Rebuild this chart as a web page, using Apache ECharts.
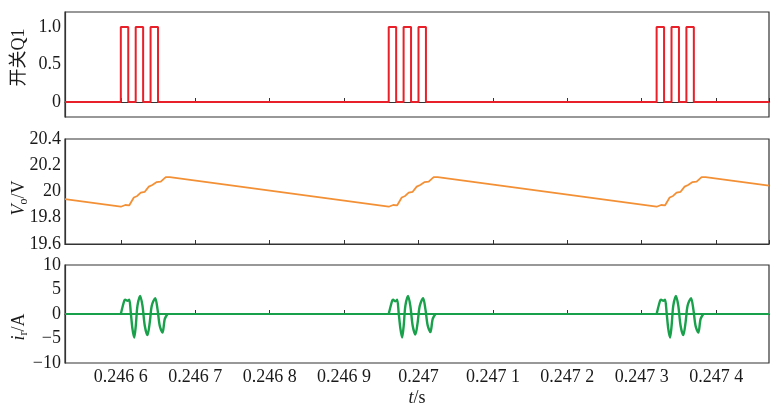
<!DOCTYPE html>
<html><head><meta charset="utf-8">
<script src="https://cdn.jsdelivr.net/npm/echarts@6/dist/echarts.min.js"></script>
<style>html,body{margin:0;padding:0;background:#fff}#c{width:770px;height:404px}</style>
</head><body><div id="c"></div><script>
// ---- data ----
const xMin = 0.246525, xMax = 0.247471;
const q1Times = [0.246525, 0.24660, 0.24661, 0.24662, 0.24663, 0.24664, 0.24665,
  0.24696, 0.24697, 0.24698, 0.24699, 0.24700, 0.24701,
  0.24732, 0.24733, 0.24734, 0.24735, 0.24736, 0.24737, 0.247471];
const q1Values = [0, 1, 0, 1, 0, 1, 0, 1, 0, 1, 0, 1, 0, 1, 0, 1, 0, 1, 0, 0];

const voTimes = [0.246525, 0.246600, 0.246606, 0.2466114, 0.2466175, 0.2466221, 0.2466268, 0.2466322, 0.2466376, 0.2466423, 0.2466483, 0.2466537, 0.2466604, 0.2466658,
  0.246960, 0.246966, 0.2469714, 0.2469775, 0.2469821, 0.2469868, 0.2469922, 0.2469976, 0.2470023, 0.2470083, 0.2470137, 0.2470204, 0.2470258,
  0.247320, 0.247326, 0.2473314, 0.2473375, 0.2473421, 0.2473468, 0.2473522, 0.2473576, 0.2473623, 0.2473683, 0.2473737, 0.2473804, 0.2473858,
  0.247471];
const voValues = [19.942, 19.884, 19.897, 19.895, 19.954, 19.966, 19.991, 19.998, 20.037, 20.050, 20.072, 20.075, 20.110, 20.110,
  19.884, 19.897, 19.895, 19.954, 19.966, 19.991, 19.998, 20.037, 20.050, 20.072, 20.075, 20.110, 20.110,
  19.884, 19.897, 19.895, 19.954, 19.966, 19.991, 19.998, 20.037, 20.050, 20.072, 20.075, 20.110, 20.110,
  20.045];

const irFlatTimes = [0.246525, 0.247471];
const irFlatValues = [0, 0];
const irB1Times = [0.2466000, 0.2466046, 0.2466059, 0.2466090, 0.2466113, 0.2466134, 0.2466157, 0.2466180, 0.2466201, 0.2466224, 0.2466260, 0.2466291, 0.2466322, 0.2466358, 0.2466389, 0.2466416, 0.2466462, 0.2466493, 0.2466523, 0.2466560, 0.2466591, 0.2466627];
const irB1Values = [0, 2.7, 2.9, 2.7, 2.9, 0.3, -3.1, -4.8, -2.4, 1.7, 3.7, 1.7, -2.4, -4.3, -1.7, 1.7, 3.2, 1.0, -2.4, -3.8, -1.0, 0];
const irB2Times = [0.2469600, 0.2469646, 0.2469659, 0.2469690, 0.2469713, 0.2469734, 0.2469757, 0.2469780, 0.2469801, 0.2469824, 0.2469860, 0.2469891, 0.2469922, 0.2469958, 0.2469989, 0.2470016, 0.2470062, 0.2470093, 0.2470123, 0.2470160, 0.2470191, 0.2470227];
const irB2Values = [0, 2.7, 2.9, 2.6, 2.9, 0.2, -3.0, -4.8, -2.4, 1.7, 3.7, 1.6, -2.4, -4.2, -1.7, 1.6, 3.2, 1.0, -2.3, -3.7, -1.0, 0];
const irB3Times = [0.2473200, 0.2473246, 0.2473259, 0.2473290, 0.2473313, 0.2473334, 0.2473357, 0.2473380, 0.2473401, 0.2473424, 0.2473460, 0.2473491, 0.2473522, 0.2473558, 0.2473589, 0.2473616, 0.2473662, 0.2473693, 0.2473723, 0.2473760, 0.2473791, 0.2473827];
const irB3Values = [0, 2.7, 2.9, 2.7, 2.9, 0.3, -3.1, -4.8, -2.4, 1.7, 3.7, 1.7, -2.4, -4.3, -1.7, 1.7, 3.2, 1.0, -2.4, -3.8, -1.0, 0];

// ---- chart ----
const zip = (a, b) => a.map((v, i) => [v, b[i]]);
const FF = '"Liberation Serif","Times New Roman","Noto Sans CJK SC",serif';
const TXT = '#1a1a1a';
const AX = '#333';
const grids = [
  {left: 65, right: 1, top: 12, height: 105},
  {left: 65, right: 1, top: 139, height: 105},
  {left: 65, right: 1, top: 265, height: 98}
].map(g => Object.assign(g, {show: true, borderColor: AX, borderWidth: 1.2, containLabel: false, outerBoundsMode: 'none'}));

function xFmt(v) {
  let s = v.toFixed(4).replace(/0+$/, '');
  if (s.length > 5) s = s.slice(0, 5) + ' ' + s.slice(5);
  return s;
}
const xAxes = [0, 1, 2].map(i => ({
  type: 'value', gridIndex: i, min: xMin, max: xMax,
  minInterval: 0.0001, maxInterval: 0.0001,
  axisLine: {show: true, lineStyle: {color: AX, width: 1.2}},
  axisTick: {show: true, inside: true, length: 4, lineStyle: {color: AX, width: 1}},
  splitLine: {show: false},
  axisLabel: {show: i === 2, showMinLabel: false, showMaxLabel: false, formatter: xFmt,
    color: TXT, fontSize: 18, fontFamily: FF, margin: 5},
  name: i === 2 ? '{i|t}/s' : '', nameLocation: 'middle', nameGap: 26, nameMoveOverlap: false,
  nameTextStyle: {color: TXT, fontSize: 18, fontFamily: FF, rich: {i: {fontStyle: 'italic', fontSize: 18, fontFamily: FF, color: TXT}}}
}));
const richName = {
  i: {fontStyle: 'italic', fontSize: 18, lineHeight: 22, fontFamily: FF, color: TXT},
  s: {fontSize: 12, lineHeight: 12, verticalAlign: 'bottom', fontFamily: FF, color: TXT}
};
function yBase(i, extra) {
  return Object.assign({
    type: 'value', gridIndex: i,
    axisLine: {show: true, lineStyle: {color: AX, width: 1.2}},
    axisTick: {show: false},
    splitLine: {show: false},
    nameLocation: 'middle', nameGap: 35, nameRotate: 90, nameMoveOverlap: false
  }, extra);
}
const yAxes = [
  yBase(0, {min: -0.2, max: 1.2, minInterval: 0.5, maxInterval: 0.5,
    axisLabel: {showMinLabel: false, showMaxLabel: false, color: TXT, fontSize: 18, fontFamily: FF, margin: 4,
      formatter: v => Math.abs(v) < 1e-9 ? '0' : v.toFixed(1)},
    name: '开关Q1',
    nameTextStyle: {color: TXT, fontSize: 18, fontFamily: FF, lineHeight: 22, padding: [0, 0, 0, 14]}}),
  yBase(1, {min: 19.6, max: 20.4, interval: 0.2,
    axisLabel: {color: TXT, fontSize: 18, fontFamily: FF, margin: 4,
      formatter: v => String(parseFloat(v.toFixed(1)))},
    name: '{i|V}{s|o}/V',
    nameTextStyle: {color: TXT, fontSize: 18, fontFamily: FF, lineHeight: 22, padding: [0, 13, 0, 0], rich: richName}}),
  yBase(2, {min: -10, max: 10, interval: 5,
    axisLabel: {color: TXT, fontSize: 18, fontFamily: FF, margin: 4,
      formatter: v => String(Math.round(v)).replace('-', '\u2212')},
    name: '{i|i}{s|r}/A',
    nameTextStyle: {color: TXT, fontSize: 18, fontFamily: FF, lineHeight: 22, padding: [0, 26, 0, 0], rich: richName}})
];

const RED = '#e8202a', ORANGE = '#f39036', GREEN = '#19a04b';
const lineS = (xi, data, color, width, extra) => Object.assign({
  type: 'line', xAxisIndex: xi, yAxisIndex: xi, data: data, showSymbol: false, symbol: 'none',
  lineStyle: {color: color, width: width}, itemStyle: {color: color}, silent: true
}, extra || {});

const option = {
  animation: false,
  backgroundColor: '#fff',
  grid: grids,
  xAxis: xAxes,
  yAxis: yAxes,
  series: [
    lineS(0, zip(q1Times, q1Values), RED, 2, {step: 'end'}),
    lineS(1, zip(voTimes, voValues), ORANGE, 1.8),
    lineS(2, zip(irFlatTimes, irFlatValues), GREEN, 2.2),
    lineS(2, zip(irB1Times, irB1Values), GREEN, 2.4, {smooth: 0.3}),
    lineS(2, zip(irB2Times, irB2Values), GREEN, 2.4, {smooth: 0.3}),
    lineS(2, zip(irB3Times, irB3Values), GREEN, 2.4, {smooth: 0.3})
  ]
};
echarts.init(document.getElementById('c'), null, {renderer: 'canvas'}).setOption(option);
</script></body></html>
